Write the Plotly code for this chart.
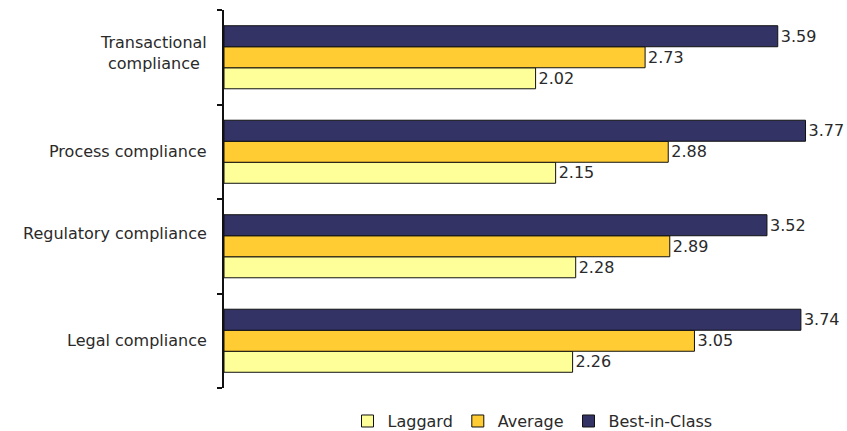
import plotly.graph_objects as go

categories = ["Transactional<br>compliance", "Process compliance",
              "Regulatory compliance", "Legal compliance"]
series_names = ["Laggard", "Average", "Best-in-Class"]
laggard = [2.02, 2.15, 2.28, 2.26]
average = [2.73, 2.88, 2.89, 3.05]
best_in_class = [3.59, 3.77, 3.52, 3.74]

colors = ["#FFFF99", "#FFCC33", "#333366"]
FONT = "DejaVu Sans"
TXT = "#2a2a2a"

fig = go.Figure()
for name, vals, col in zip(series_names, [laggard, average, best_in_class], colors):
    fig.add_trace(go.Bar(
        y=categories, x=vals, name=name, orientation="h",
        marker=dict(color=col, line=dict(color="#111111", width=1)),
        texttemplate="%{x:.2f}", textposition="outside",
        textfont=dict(family=FONT, size=16, color=TXT),
        cliponaxis=False, constraintext="none",
    ))

# category labels (centered multi-line), placed through the y axis
label_shift = [4, 0, 13, 0]
for cat, sh in zip(categories, label_shift):
    fig.add_annotation(
        xref="paper", x=0, yref="y", y=cat, text=cat, showarrow=False,
        xanchor="right", yanchor="middle", align="center", xshift=-15, yshift=sh,
        font=dict(family=FONT, size=16, color=TXT),
    )

fig.update_layout(
    width=847, height=431,
    margin=dict(l=224, r=6, t=10, b=43, autoexpand=False),
    paper_bgcolor="white", plot_bgcolor="white",
    barmode="group", bargap=0.333, bargroupgap=0,
    font=dict(family=FONT, size=16, color=TXT),
    showlegend=True,
    legend=dict(orientation="h", x=0.5, xanchor="center", yref="container",
                y=0.023, yanchor="middle",
                font=dict(family=FONT, size=16, color=TXT), traceorder="normal"),
    xaxis=dict(range=[0, 4], visible=False, showgrid=False, zeroline=False),
    yaxis=dict(categoryorder="array", categoryarray=list(reversed(categories)),
               showticklabels=False, showline=True, linecolor="#111111", linewidth=2,
               ticks="outside", tickson="boundaries", ticklen=5, tickcolor="#111111",
               tickwidth=1.5, showgrid=False, zeroline=False),
)

fig.write_html("out.html")
